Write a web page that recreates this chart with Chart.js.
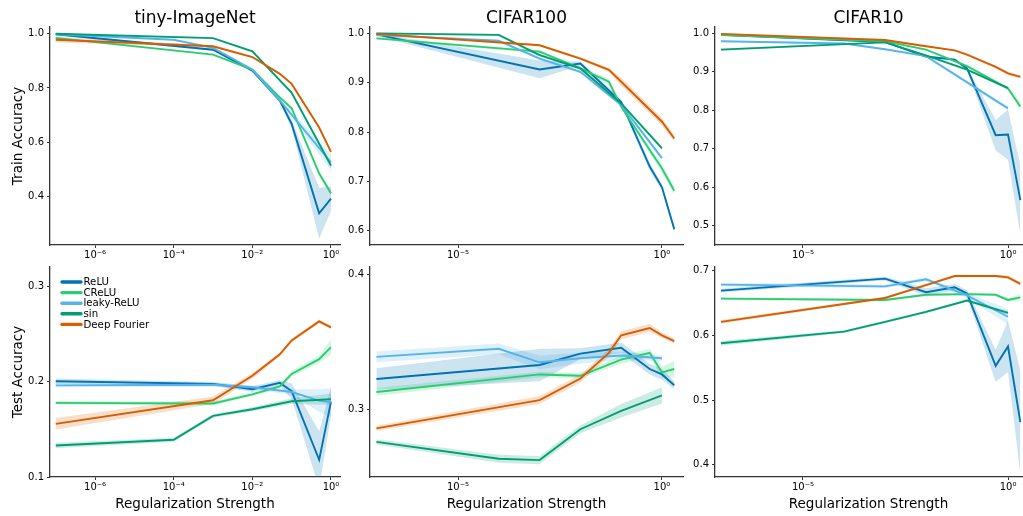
<!DOCTYPE html>
<html>
<head>
<meta charset="utf-8">
<script src="https://cdn.jsdelivr.net/npm/chart.js@4.4.1/dist/chart.umd.min.js"></script>
<style>
  html, body { margin: 0; padding: 0; background: #fff; }
  #wrap { position: relative; width: 1023px; height: 516px; overflow: hidden; }
  canvas { position: absolute; }
</style>
</head>
<body>
<div id="wrap"></div>
<script>
// regularization strengths (shared x positions)
const xs = [1e-7, 1e-4, 1e-3, 1e-2, 0.05, 0.1, 0.5, 1, 2];
const names = ['ReLU', 'CReLU', 'leaky-ReLU', 'sin', 'Deep Fourier'];
const colors = ['#0173b2', '#2ecc71', '#56b4e9', '#029e73', '#d55e00'];
const bandColors = ['rgba(1,115,178,0.2)', 'rgba(46,204,113,0.2)', 'rgba(86,180,233,0.2)', 'rgba(2,158,115,0.2)', 'rgba(213,94,0,0.2)'];

// tiny-ImageNet, train
const tinyTrainRelu = [0.998, null, 0.941, 0.864, 0.753, 0.667, 0.337, 0.391];
const tinyTrainReluSd = [0.004, null, 0.004, 0.005, 0.008, 0.015, 0.094, 0.045];
const tinyTrainCrelu = [0.985, null, 0.923, 0.868, 0.765, 0.725, 0.484, 0.411];
const tinyTrainCreluSd = [0.003, null, 0.003, 0.003, 0.005, 0.006, 0.01, 0.01];
const tinyTrainLeaky = [0.998, 0.978, 0.948, 0.868, 0.754, null, null, 0.525];
const tinyTrainLeakySd = [0.003, 0.003, 0.004, 0.005, 0.008, null, null, 0.03];
const tinyTrainSin = [1.0, null, 0.984, 0.935, null, 0.782, null, 0.513];
const tinyTrainSinSd = [0.002, null, 0.002, 0.003, null, 0.005, null, 0.012];
const tinyTrainDf = [0.978, null, 0.954, 0.914, 0.852, 0.815, 0.654, 0.564];
const tinyTrainDfSd = [0.01, null, 0.004, 0.004, 0.004, 0.005, 0.006, 0.006];

// tiny-ImageNet, test
const tinyTestRelu = [0.2003, null, 0.1976, 0.192, 0.1986, 0.19, 0.118, 0.179];
const tinyTestReluSd = [0.003, null, 0.002, 0.003, 0.003, 0.008, 0.03, 0.015];
const tinyTestCrelu = [0.1777, null, 0.177, 0.1866, 0.195, 0.208, 0.2234, 0.236];
const tinyTestCreluSd = [0.002, null, 0.002, 0.002, 0.002, 0.003, 0.004, 0.008];
const tinyTestLeaky = [0.196, null, 0.1966, 0.194, null, 0.189, 0.18, 0.178];
const tinyTestLeakySd = [0.002, null, 0.002, 0.002, null, 0.003, 0.012, 0.015];
const tinyTestSin = [0.133, 0.139, 0.164, 0.171, null, 0.1794, null, 0.1814];
const tinyTestSinSd = [0.003, 0.002, 0.002, 0.002, null, 0.003, null, 0.006];
const tinyTestDf = [0.1557, null, 0.1804, 0.206, 0.2285, 0.243, 0.263, 0.2567];
const tinyTestDfSd = [0.006, null, 0.004, 0.003, 0.002, 0.002, 0.002, 0.002];

// CIFAR100, train
const c100TrainRelu = [0.998, null, 0.927, 0.939, null, 0.861, 0.73, 0.688, 0.603];
const c100TrainReluSd = [0.003, null, 0.018, 0.004, null, 0.006, 0.008, 0.006, 0.006];
const c100TrainCrelu = [0.99, null, 0.963, 0.929, 0.902, 0.851, null, 0.726, 0.681];
const c100TrainCreluSd = [0.002, null, 0.003, 0.003, 0.006, 0.004, null, 0.008, 0.008];
const c100TrainLeaky = [0.997, 0.985, 0.949, 0.922, null, 0.855, null, 0.747];
const c100TrainLeakySd = [0.002, 0.002, 0.003, 0.003, null, 0.004, null, 0.004];
const c100TrainSin = [1.0, 0.997, 0.956, 0.929, null, 0.858, null, 0.767];
const c100TrainSinSd = [0.002, 0.002, 0.003, 0.003, null, 0.003, null, 0.003];
const c100TrainDf = [0.999, null, 0.976, 0.949, 0.926, 0.902, null, 0.821, 0.787];
const c100TrainDfSd = [0.002, null, 0.002, 0.003, 0.004, 0.008, null, 0.008, 0.006];

// CIFAR100, test
const c100TestRelu = [0.3226, null, 0.333, 0.3414, null, 0.3457, 0.33, 0.326, 0.318];
const c100TestReluSd = [0.008, null, 0.012, 0.004, null, 0.004, 0.004, 0.004, 0.003];
const c100TestCrelu = [0.313, null, 0.326, 0.325, null, 0.337, 0.342, 0.3275, 0.33];
const c100TestCreluSd = [0.003, null, 0.002, 0.002, null, 0.003, 0.003, 0.004, 0.006];
const c100TestLeaky = [0.339, 0.345, 0.335, 0.338, null, 0.34, null, 0.338];
const c100TestLeakySd = [0.004, 0.004, 0.005, 0.004, null, 0.003, null, 0.002];
const c100TestSin = [0.276, 0.2635, 0.2625, 0.2854, null, 0.299, null, 0.3105];
const c100TestSinSd = [0.002, 0.003, 0.003, 0.003, null, 0.005, null, 0.006];
const c100TestDf = [0.286, null, 0.307, 0.323, 0.342, 0.355, 0.3604, 0.355, 0.3507];
const c100TestDfSd = [0.002, null, 0.003, 0.003, 0.003, 0.003, 0.003, 0.002, 0.002];

// CIFAR10, train
const c10TrainRelu = [0.997, null, 0.978, 0.94, 0.932, 0.909, 0.735, 0.737, 0.566];
const c10TrainReluSd = [0.002, null, 0.002, 0.003, 0.003, 0.004, 0.04, 0.065, 0.09];
const c10TrainCrelu = [0.996, null, 0.98, 0.958, null, 0.915, null, 0.857, 0.81];
const c10TrainCreluSd = [0.002, null, 0.002, 0.002, null, 0.003, null, 0.004, 0.012];
const c10TrainLeaky = [0.98, 0.974, 0.959, 0.941, null, null, null, 0.805];
const c10TrainLeakySd = [0.002, 0.002, 0.002, 0.003, null, null, null, 0.005];
const c10TrainSin = [0.958, null, 0.977, 0.943, null, 0.906, null, 0.858];
const c10TrainSinSd = [0.003, null, 0.002, 0.002, null, 0.003, null, 0.004];
const c10TrainDf = [0.999, null, 0.983, 0.967, 0.956, 0.945, 0.913, 0.896, 0.887];
const c10TrainDfSd = [0.002, null, 0.002, 0.002, 0.002, 0.003, 0.004, 0.005, 0.004];

// CIFAR10, test
const c10TestRelu = [0.6695, null, 0.688, 0.667, 0.6746, 0.665, 0.553, 0.583, 0.466];
const c10TestReluSd = [0.003, null, 0.003, 0.006, 0.005, 0.005, 0.025, 0.04, 0.08];
const c10TestCrelu = [0.657, null, 0.655, 0.663, null, 0.664, 0.663, 0.655, 0.659];
const c10TestCreluSd = [0.002, null, 0.002, 0.002, null, 0.002, 0.002, 0.003, 0.005];
const c10TestLeaky = [0.6787, null, 0.676, 0.687, null, 0.662, null, 0.629];
const c10TestLeakySd = [0.003, null, 0.003, 0.003, null, 0.004, null, 0.012];
const c10TestSin = [0.588, 0.606, 0.621, 0.6365, null, 0.654, null, 0.635];
const c10TestSinSd = [0.004, 0.002, 0.002, 0.002, null, 0.002, null, 0.003];
const c10TestDf = [0.621, null, 0.658, 0.678, 0.692, 0.692, 0.692, 0.69, 0.68];
const c10TestDfSd = [0.003, null, 0.002, 0.002, 0.002, 0.002, 0.002, 0.003, 0.003];

// tick labels
const xTicksWide = [1e-6, 1e-4, 1e-2, 1];
const xTickLabelsWide = ['10\u207B\u2076', '10\u207B\u2074', '10\u207B\u00B2', '10\u2070'];
const xTicksNarrow = [1e-5, 1];
const xTickLabelsNarrow = ['10\u207B\u2075', '10\u2070'];
const yTicksTinyTrain = [0.4, 0.6, 0.8, 1.0];
const yTicksC100Train = [0.6, 0.7, 0.8, 0.9, 1.0];
const yTicksC10Train = [0.5, 0.6, 0.7, 0.8, 0.9, 1.0];
const yTicksTinyTest = [0.1, 0.2, 0.3];
const yTicksC100Test = [0.3, 0.4];
const yTicksC10Test = [0.4, 0.5, 0.6, 0.7];

Chart.defaults.font.family = 'DejaVu Sans';
Chart.defaults.color = '#000';

const AXIS = '#333';

function pts(mean, sd, sign) {
  return xs.map((x, i) => mean[i] == null ? null : { x: x, y: mean[i] + sign * (sd ? sd[i] : 0) })
    .filter(p => p !== null);
}

function buildDatasets(means, sds) {
  const out = [];
  means.forEach((m, i) => {
    out.push({ data: pts(m, sds[i], 1), borderWidth: 0, pointRadius: 0, fill: false, order: 20 });
    out.push({ data: pts(m, sds[i], -1), borderWidth: 0, pointRadius: 0, fill: '-1',
      backgroundColor: bandColors[i], order: 20 });
  });
  means.forEach((m, i) => {
    out.push({ label: names[i], data: pts(m, null, 0), borderColor: colors[i], borderWidth: 1.9,
      pointRadius: 0, fill: false, tension: 0, order: 4 - i });
  });
  return out;
}

const textPlugin = {
  id: 'panelText',
  afterDraw(chart, args, opts) {
    const ctx = chart.ctx;
    const a = chart.chartArea;
    ctx.save();
    ctx.fillStyle = '#000';
    if (opts.title) {
      ctx.font = '17px "DejaVu Sans"';
      ctx.textAlign = 'center';
      ctx.textBaseline = 'alphabetic';
      ctx.fillText(opts.title, (a.left + a.right) / 2, 23);
    }
    if (opts.xLabel) {
      ctx.font = '13.5px "DejaVu Sans"';
      ctx.textAlign = 'center';
      ctx.textBaseline = 'middle';
      ctx.fillText(opts.xLabel, (a.left + a.right) / 2, opts.xLabelY);
    }
    if (opts.yLabel) {
      ctx.translate(18, (a.top + a.bottom) / 2);
      ctx.rotate(-Math.PI / 2);
      ctx.font = '13.5px "DejaVu Sans"';
      ctx.textAlign = 'center';
      ctx.textBaseline = 'middle';
      ctx.fillText(opts.yLabel, 0, 0);
    }
    ctx.restore();
    if (opts.legend) {
      ctx.save();
      ctx.font = '10.2px "DejaVu Sans"';
      ctx.textAlign = 'left';
      ctx.textBaseline = 'middle';
      names.forEach((n, i) => {
        const y = 282 - 258 + i * 10.6;
        ctx.strokeStyle = colors[i];
        ctx.lineWidth = 3.4;
        ctx.lineCap = 'round';
        ctx.beginPath();
        ctx.moveTo(62, y);
        ctx.lineTo(81, y);
        ctx.stroke();
        ctx.fillStyle = '#000';
        ctx.fillText(n, 83.5, y + 0.5);
      });
      ctx.restore();
    }
  }
};

const wrap = document.getElementById('wrap');

// columns: canvas x, width, y-axis width, right padding, log10 x range, ticks
const cols = [
  { x: 0, w: 345, yW: 50, padR: 5, lo: -7.145, hi: 0.229, ticks: xTicksWide, labels: xTickLabelsWide },
  { x: 345, w: 345, yW: 25, padR: 7, lo: -7.157, hi: 0.515, ticks: xTicksNarrow, labels: xTickLabelsNarrow },
  { x: 690, w: 333, yW: 25, padR: 1, lo: -7.146, hi: 0.341, ticks: xTicksNarrow, labels: xTickLabelsNarrow }
];
const rows = [
  { y: 0, h: 258, padT: 27, xH: 13 },
  { y: 258, h: 258, padT: 5, xH: 39 }
];

function makePanel(col, row, means, sds, yMin, yMax, yTicks, text) {
  const c = cols[col], r = rows[row];
  const cv = document.createElement('canvas');
  cv.width = c.w; cv.height = r.h;
  cv.style.left = c.x + 'px'; cv.style.top = r.y + 'px';
  cv.style.width = c.w + 'px'; cv.style.height = r.h + 'px';
  wrap.appendChild(cv);
  new Chart(cv, {
    type: 'line',
    data: { datasets: buildDatasets(means, sds) },
    options: {
      responsive: false,
      animation: false,
      devicePixelRatio: 1,
      layout: { padding: { top: r.padT, right: c.padR, left: 0, bottom: 0 } },
      plugins: {
        legend: { display: false },
        tooltip: { enabled: false },
        filler: { drawTime: 'beforeDatasetsDraw' },
        panelText: text
      },
      scales: {
        x: {
          type: 'logarithmic',
          min: Math.pow(10, c.lo),
          max: Math.pow(10, c.hi),
          afterBuildTicks: s => { s.ticks = c.ticks.map(v => ({ value: v })); },
          afterFit: s => { s.height = r.xH; },
          ticks: {
            callback: (v, i) => c.labels[i],
            font: { size: 10 }, color: '#000', maxRotation: 0, minRotation: 0, autoSkip: false, padding: 1
          },
          grid: { drawOnChartArea: false, drawTicks: true, tickLength: 3, color: AXIS },
          border: { display: true, color: AXIS, width: 1.3 }
        },
        y: {
          type: 'linear',
          min: yMin,
          max: yMax,
          afterBuildTicks: s => { s.ticks = yTicks.map(v => ({ value: v })); },
          afterFit: s => { s.width = c.yW; },
          ticks: {
            callback: v => v.toFixed(1),
            font: { size: 10 }, color: '#000', padding: 3
          },
          grid: { drawOnChartArea: false, drawTicks: true, tickLength: 3, color: AXIS },
          border: { display: true, color: AXIS, width: 1.3 }
        }
      }
    },
    plugins: [textPlugin]
  });
}

makePanel(0, 0,
  [tinyTrainRelu, tinyTrainCrelu, tinyTrainLeaky, tinyTrainSin, tinyTrainDf],
  [tinyTrainReluSd, tinyTrainCreluSd, tinyTrainLeakySd, tinyTrainSinSd, tinyTrainDfSd],
  0.22, 1.025, yTicksTinyTrain, { title: 'tiny-ImageNet', yLabel: 'Train Accuracy' });
makePanel(1, 0,
  [c100TrainRelu, c100TrainCrelu, c100TrainLeaky, c100TrainSin, c100TrainDf],
  [c100TrainReluSd, c100TrainCreluSd, c100TrainLeakySd, c100TrainSinSd, c100TrainDfSd],
  0.571, 1.013, yTicksC100Train, { title: 'CIFAR100' });
makePanel(2, 0,
  [c10TrainRelu, c10TrainCrelu, c10TrainLeaky, c10TrainSin, c10TrainDf],
  [c10TrainReluSd, c10TrainCreluSd, c10TrainLeakySd, c10TrainSinSd, c10TrainDfSd],
  0.449, 1.017, yTicksC10Train, { title: 'CIFAR10' });
makePanel(0, 1,
  [tinyTestRelu, tinyTestCrelu, tinyTestLeaky, tinyTestSin, tinyTestDf],
  [tinyTestReluSd, tinyTestCreluSd, tinyTestLeakySd, tinyTestSinSd, tinyTestDfSd],
  0.1, 0.32, yTicksTinyTest,
  { yLabel: 'Test Accuracy', xLabel: 'Regularization Strength', xLabelY: 246, legend: true });
makePanel(1, 1,
  [c100TestRelu, c100TestCrelu, c100TestLeaky, c100TestSin, c100TestDf],
  [c100TestReluSd, c100TestCreluSd, c100TestLeakySd, c100TestSinSd, c100TestDfSd],
  0.25, 0.4056, yTicksC100Test, { xLabel: 'Regularization Strength', xLabelY: 246 });
makePanel(2, 1,
  [c10TestRelu, c10TestCrelu, c10TestLeaky, c10TestSin, c10TestDf],
  [c10TestReluSd, c10TestCreluSd, c10TestLeakySd, c10TestSinSd, c10TestDfSd],
  0.381, 0.706, yTicksC10Test, { xLabel: 'Regularization Strength', xLabelY: 246 });
</script>
</body>
</html>
